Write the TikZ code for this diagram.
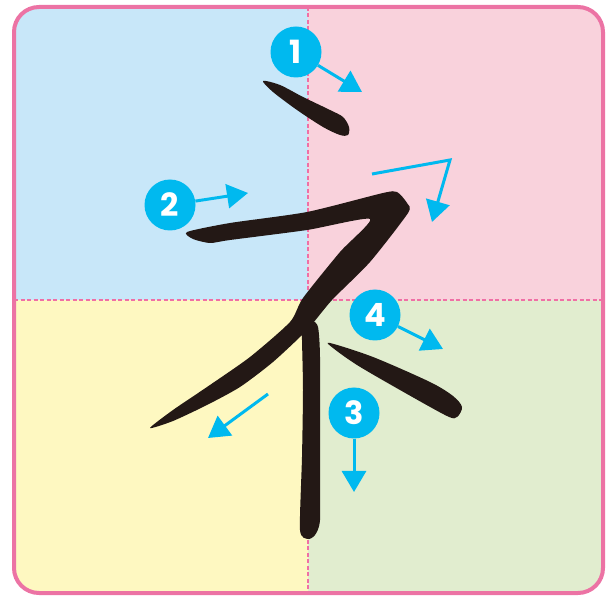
\documentclass[tikz,border=0pt]{standalone}
\usepackage{fontspec}
\setsansfont{Poppins}
\usetikzlibrary{arrows.meta}

\definecolor{frame}{HTML}{EC73A4}
\definecolor{dashpink}{HTML}{F06FA5}
\definecolor{qblue}{HTML}{C8E7F9}
\definecolor{qpink}{HTML}{F9D2DC}
\definecolor{qyellow}{HTML}{FEF8C1}
\definecolor{qgreen}{HTML}{E1EDCF}
\definecolor{marker}{HTML}{00B9EF}
\definecolor{ink}{HTML}{231815}

\begin{document}
\begin{tikzpicture}[
  x=1pt, y=-1pt,
  num/.style={circle, fill=marker, minimum size=51pt, inner sep=0pt, text=white, font=\sffamily\bfseries\fontsize{32}{32}\selectfont},
  dir/.style={-{Triangle[length=21pt,width=24pt]}, draw=marker, line width=3pt},
  guide/.style={draw=dashpink, line width=1.5pt, dash pattern=on 4pt off 2.5pt},
  brush/.style={fill=ink},
  border/.style={draw=frame, line width=4pt, rounded corners=25pt}
]
\useasboundingbox (0,0) rectangle (606,596);
% quarters of the writing square
\begin{scope}
  \clip[rounded corners=25pt] (14,7) rectangle (603,593);
  \fill[qblue] (0,0) rectangle (308,300);
  \fill[qpink] (308,0) rectangle (606,300);
  \fill[qyellow] (0,300) rectangle (308,596);
  \fill[qgreen] (308,300) rectangle (606,596);
\end{scope}
\draw[guide] (308,7) -- (308,593);
\draw[guide] (14,300) -- (603,300);
\draw[border] (14,7) rectangle (603,593);
% strokes
\fill[brush] plot[smooth cycle, tension=0.5] coordinates {(263,81) (280,85) (303,97) (330,110) (343,117) (349,127) (348,135) (340,135) (323,127) (297,110) (273,92)};
\fill[brush] plot[smooth cycle, tension=0.4] coordinates {(187,232) (230,223) (307,212) (383,193) (397,192) (407,203) (408,213) (370,262) (332,300) (307,330) (273,362) (240,387) (207,405) (173,421) (150,428) (173,410) (207,387) (250,357) (290,322) (303,298) (340,252) (370,219) (307,230) (230,240) (210,243) (193,239)};
\fill[brush] plot[smooth cycle, tension=0.4] coordinates {(302,329) (312,321) (318,327) (320,357) (320,457) (320,520) (315,535) (308,539) (300,530) (302,457) (303,390) (302,340)};
\fill[brush] plot[smooth cycle, tension=0.5] coordinates {(330,343) (373,357) (430,382) (453,396) (462,407) (457,417) (447,416) (400,390) (357,365) (333,348)};
% order marks
\node[num] (n1) at (296,52) {1};
\node[num] (n2) at (170,205) {2};
\node[num] (n3) at (354,413) {3};
\node[num] (n4) at (375,315) {4};
\coordinate (t1) at (362,92);
\coordinate (t2) at (248,193);
\coordinate (t3) at (354,492);
\coordinate (t4) at (443,349);
\coordinate (h1) at (372,174);
\coordinate (h2) at (450,160);
\coordinate (h3) at (432,222);
\coordinate (p1) at (268,394);
\coordinate (p2) at (208,438);
\draw[dir] (n1) -- (t1);
\draw[dir] (n2) -- (t2);
\draw[dir] (n3) -- (t3);
\draw[dir] (n4) -- (t4);
\draw[dir] (h1) -- (h2) -- (h3);
\draw[dir] (p1) -- (p2);
\end{tikzpicture}
\end{document}
